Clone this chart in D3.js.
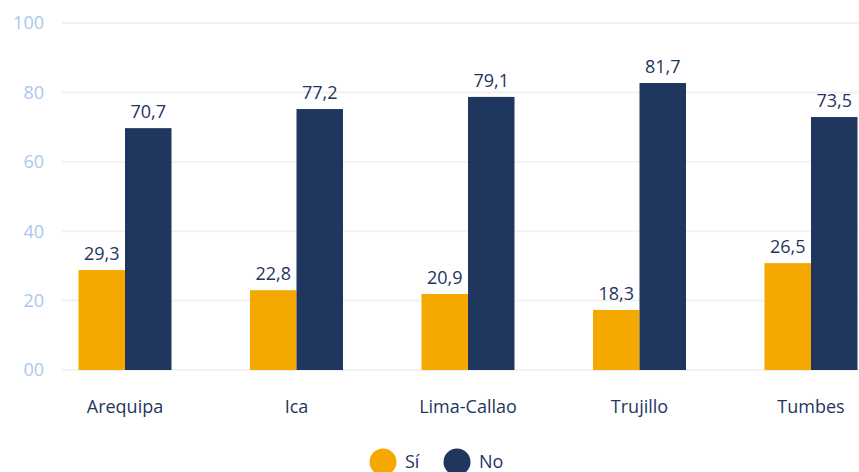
<!DOCTYPE html>
<html><head><meta charset="utf-8">
<script src="https://cdn.jsdelivr.net/npm/d3@7"></script>
<style>
html,body{margin:0;padding:0;background:#fff;}
svg{display:block;font-family:"Open Sans",Lato,sans-serif;}
</style></head>
<body><svg id="c" width="859" height="472"></svg>
<script>
const categories = ["Arequipa","Ica","Lima-Callao","Trujillo","Tumbes"];
const siBar = [28.8, 23.0, 21.9, 17.3, 30.8];
const noBar = [69.7, 75.2, 78.7, 82.7, 72.9];
const siLabel = ["29,3","22,8","20,9","18,3","26,5"];
const noLabel = ["70,7","77,2","79,1","81,7","73,5"];
const yTicks = [0,20,40,60,80,100];
const yTickLabels = ["00","20","40","60","80","100"];
const seriesNames = ["Sí","No"];
const colors = ["#F5A800","#1F365F"];

const svg = d3.select("#c");
const y = d3.scaleLinear().domain([0,100]).range([370,23]);
const x = d3.scalePoint().domain(categories).range([125,811]);
const bw = 46.5;

// grid
svg.append("g").selectAll("line").data(yTicks).join("line")
  .attr("x1",62).attr("x2",859)
  .attr("y1",d=>y(d)).attr("y2",d=>y(d))
  .attr("stroke","#f2f2f2").attr("stroke-width",2);

// y axis labels
svg.append("g").selectAll("text").data(yTicks).join("text")
  .attr("x",44).attr("y",d=>y(d)).attr("dy","0.36em")
  .attr("text-anchor","end").attr("font-size",18)
  .attr("fill","#A9C8EE").text((d,i)=>yTickLabels[i]);

const data = categories.map((c,i)=>({c, vals:[
  {s:0,v:siBar[i],l:siLabel[i]},{s:1,v:noBar[i],l:noLabel[i]}]}));

const g = svg.append("g").selectAll("g").data(data).join("g");
g.selectAll("rect").data(d=>d.vals.map(v=>({...v,c:d.c}))).join("rect")
  .attr("x",d=>x(d.c)+(d.s===0?-bw:0)).attr("width",bw)
  .attr("y",d=>y(d.v)).attr("height",d=>y(0)-y(d.v))
  .attr("fill",d=>colors[d.s]);
g.selectAll("text.v").data(d=>d.vals.map(v=>({...v,c:d.c}))).join("text")
  .attr("class","v")
  .attr("x",d=>x(d.c)+(d.s===0?-bw/2:bw/2)).attr("y",d=>y(d.v)-10)
  .attr("text-anchor","middle").attr("font-size",18).attr("fill","#1F365F")
  .text(d=>d.l);

// category labels
svg.append("g").selectAll("text").data(categories).join("text")
  .attr("x",d=>x(d)).attr("y",413).attr("text-anchor","middle")
  .attr("font-size",18).attr("fill","#1F365F").text(d=>d);

// legend
const leg = svg.append("g");
const lx = [383,457];
seriesNames.forEach((s,i)=>{
  leg.append("circle").attr("cx",lx[i]).attr("cy",462).attr("r",13.5).attr("fill",colors[i]);
  leg.append("text").attr("x",lx[i]+22).attr("y",468).attr("font-size",18)
    .attr("fill","#1F365F").text(s);
});
</script></body></html>
